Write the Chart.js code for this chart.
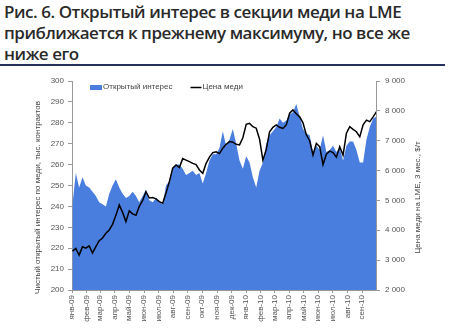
<!DOCTYPE html>
<html>
<head>
<meta charset="utf-8">
<script src="https://cdn.jsdelivr.net/npm/chart.js@4"></script>
<style>
  html, body { margin: 0; padding: 0; background: #fff; width: 449px; height: 330px; overflow: hidden; }
  #title { position: absolute; left: 4px; top: 1px; width: 445px; font-family: 'Open Sans', sans-serif;
           font-weight: 600; font-size: 17px; letter-spacing: -0.45px; line-height: 21px; color: #2a2a2a; white-space: nowrap; }
  #rule { position: absolute; left: 0; top: 64px; width: 445px; height: 0; border-top: 2px solid #26315f; }
  #wrap { position: absolute; left: 0; top: 68px; width: 449px; height: 262px; }
</style>
</head>
<body>
<div id="title">Рис. 6. Открытый интерес в секции меди на LME<br>приближается к прежнему максимуму, но все же<br>ниже его</div>
<div id="rule"></div>
<div id="wrap"><canvas id="chart" width="449" height="262"></canvas></div>
<script>
// Weekly observations, starting Friday 2 January 2009
const firstWeek = '2009-01-02';
const weekStep = 7;

// Net open interest in LME copper, thousand contracts
const openInterest = [
  241, 256, 249, 254, 250, 249, 247, 245, 242, 241,
  240, 246, 250, 253, 249, 246, 244, 245, 247, 245,
  242, 245, 248, 243, 242, 244, 242, 241, 250, 252,
  258, 260, 260, 258, 255, 256, 257, 255, 256, 251,
  256, 262, 265, 265, 268, 276, 269, 272, 277, 270,
  262, 258, 264, 261, 254, 249, 257, 261, 270, 274,
  276, 278, 282, 280, 281, 284, 285, 289, 283, 277,
  275, 274, 266, 269, 267, 274, 266, 267, 269, 266,
  268, 262, 269, 271, 271, 267, 261, 261, 272, 278,
  282, 283
];

// LME 3-month copper price, $/t
const copperPrice = [
  3300, 3390, 3170, 3450, 3400, 3480, 3240, 3450, 3650, 3740,
  3900, 4010, 4200, 4500, 4850, 4600, 4290, 4650, 4550, 4500,
  4800, 5000, 5290, 5080, 5100, 5050, 4960, 4910, 5250, 5630,
  6080, 6190, 6100, 6400, 6350, 6300, 6240, 6200, 6020, 5910,
  6240, 6450, 6600, 6630, 6570, 6750, 6880, 6970, 6950, 6880,
  6860, 7100, 7550, 7580, 7470, 7420, 7050, 6350, 6700, 7300,
  7450, 7530, 7450, 7410, 7530, 7920, 8030, 7900, 7800, 7600,
  7200, 7000, 6520, 6910, 6800, 6200, 6550, 6650, 6600, 6450,
  6800, 6520, 7250, 7470, 7380, 7300, 7130, 7530, 7690, 7640,
  7800, 7970
];

const monthLabels = [
  'янв-09', 'фев-09', 'мар-09', 'апр-09', 'май-09', 'июн-09', 'июл-09', 'авг-09',
  'сен-09', 'окт-09', 'ноя-09', 'дек-09', 'янв-10', 'фев-10', 'мар-10', 'апр-10',
  'май-10', 'июн-10', 'июл-10', 'авг-10', 'сен-10'
];
const oiTicks = [200, 210, 220, 230, 240, 250, 260, 270, 280, 290, 300];
const priceTickLabels = ['2 000', '3 000', '4 000', '5 000', '6 000', '7 000', '8 000', '9 000'];

const seriesNames = ['Открытый интерес', 'Цена меди'];
const leftCaption = 'Чистый открытый интерес по меди, тыс. контрактов';
const rightCaption = 'Цена меди на LME, 3 мес., $/т';

// Day numbers counted from 1 January 2009
const DAY = 86400000;
const origin = Date.UTC(2009, 0, 1);
const dayOf = s => Math.round((Date.parse(s + 'T00:00:00Z') - origin) / DAY);
const start = dayOf(firstWeek);
const monthStarts = monthLabels.map((_, i) => Math.round((Date.UTC(2009, i, 1) - origin) / DAY));
const axisEnd = Math.round((Date.UTC(2010, 8, 30) - origin) / DAY);

const toPoints = arr => arr.map((v, k) => ({ x: start + k * weekStep, y: v }));

const FONT = 'Liberation Sans';
const tickFont = { family: FONT, size: 8 };

// Legend drawn inside the plot, top-left
const insideLegend = {
  id: 'insideLegend',
  afterDatasetsDraw(chart) {
    const { ctx, chartArea } = chart;
    let x = chartArea.left + 18;
    const y = chartArea.top + 6;
    ctx.save();
    ctx.font = '8px "' + FONT + '"';
    ctx.textBaseline = 'middle';
    chart.data.datasets.forEach(ds => {
      if (ds.fill) {
        ctx.fillStyle = ds.backgroundColor;
        ctx.fillRect(x, y - 2, 12, 5);
        x += 13;
      } else {
        ctx.strokeStyle = ds.borderColor;
        ctx.lineWidth = 1.5;
        ctx.beginPath();
        ctx.moveTo(x, y + 0.5);
        ctx.lineTo(x + 11, y + 0.5);
        ctx.stroke();
        x += 12;
      }
      ctx.fillStyle = '#444';
      ctx.fillText(ds.label, x, y);
      x += ctx.measureText(ds.label).width + 18;
    });
    ctx.restore();
  }
};

// Vertical axis captions, both reading bottom to top
const axisCaptions = {
  id: 'axisCaptions',
  afterDraw(chart) {
    const { ctx, chartArea, scales } = chart;
    const cy = (chartArea.top + chartArea.bottom) / 2 + 12;
    ctx.save();
    ctx.font = '8px "' + FONT + '"';
    ctx.fillStyle = '#444';
    ctx.textAlign = 'center';
    ctx.textBaseline = 'middle';
    [[scales.yL.left + 38, leftCaption], [scales.yR.right - 31, rightCaption]].forEach(([cx, text]) => {
      ctx.save();
      ctx.translate(cx, cy);
      ctx.rotate(-Math.PI / 2);
      ctx.fillText(text, 0, 0);
      ctx.restore();
    });
    ctx.restore();
  }
};

new Chart(document.getElementById('chart'), {
  type: 'line',
  data: {
    datasets: [
      {
        label: seriesNames[0],
        data: toPoints(openInterest),
        yAxisID: 'yL',
        fill: 'start',
        backgroundColor: '#4a7ede',
        borderWidth: 0,
        pointRadius: 0,
        tension: 0,
        order: 2
      },
      {
        label: seriesNames[1],
        data: toPoints(copperPrice),
        yAxisID: 'yR',
        fill: false,
        borderColor: '#000',
        borderWidth: 1.5,
        pointRadius: 0,
        tension: 0,
        order: 1
      }
    ]
  },
  options: {
    responsive: false,
    animation: false,
    devicePixelRatio: 1,
    layout: { padding: { top: 13, left: 0, right: 0, bottom: 0 } },
    plugins: { legend: { display: false }, tooltip: { enabled: false } },
    scales: {
      x: {
        type: 'linear',
        min: 0,
        max: axisEnd,
        afterBuildTicks: s => { s.ticks = monthStarts.map(v => ({ value: v })); },
        afterFit: s => { s.height = 40; },
        ticks: {
          autoSkip: false, maxRotation: 90, minRotation: 90,
          font: tickFont, color: '#555', padding: 2,
          callback: (v, i) => monthLabels[i]
        },
        grid: { drawOnChartArea: false, drawTicks: true, tickLength: 3, color: '#999' },
        border: { display: true, color: '#999' }
      },
      yL: {
        position: 'left',
        min: 200, max: 300,
        afterBuildTicks: s => { s.ticks = oiTicks.map(v => ({ value: v })); },
        afterFit: s => { s.width = 72; },
        ticks: { font: tickFont, color: '#555', padding: 4 },
        grid: { drawOnChartArea: false, drawTicks: true, tickLength: 4, color: '#999' },
        border: { display: true, color: '#999' }
      },
      yR: {
        position: 'right',
        min: 2000, max: 9000,
        ticks: {
          stepSize: 1000, font: tickFont, color: '#555', padding: 5,
          callback: (v, i) => priceTickLabels[i]
        },
        afterFit: s => { s.width = 73; },
        grid: { drawOnChartArea: false, drawTicks: true, tickLength: 4, color: '#999' },
        border: { display: true, color: '#999' }
      }
    }
  },
  plugins: [insideLegend, axisCaptions]
});
</script>
</body>
</html>
